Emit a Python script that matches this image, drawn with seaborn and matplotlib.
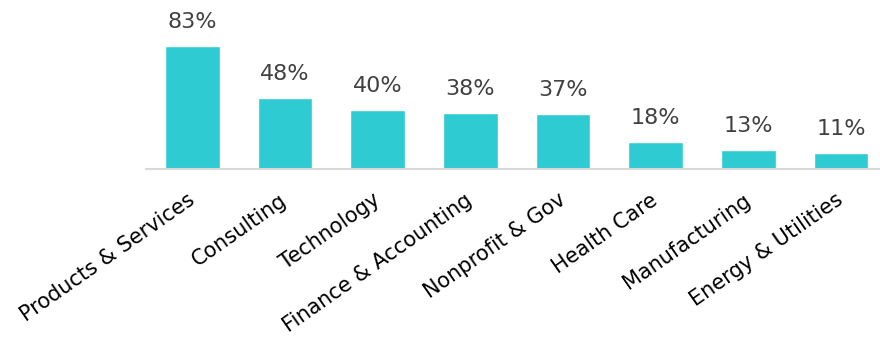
import matplotlib
matplotlib.use("Agg")
import matplotlib.pyplot as plt
import matplotlib.transforms as mtransforms
import seaborn as sns
import pandas as pd

categories = ["Products & Services", "Consulting", "Technology", "Finance & Accounting",
              "Nonprofit & Gov", "Health Care", "Manufacturing", "Energy & Utilities"]
shares = [83, 48, 40, 38, 37, 18, 13, 11]

sns.set_style("white")
plt.rcParams["font.family"] = ["DejaVu Sans"]

df = pd.DataFrame({"category": categories, "share": shares})

fig = plt.figure(figsize=(8.8, 3.38), dpi=100)
ax = fig.add_axes([146 / 880, 0.5, (880 - 146) / 880, 0.5])

sns.barplot(data=df, x="category", y="share", color="#2ECBD3", saturation=1,
            width=0.59, ax=ax)

ax.set_xlim(-0.5, 7.42)
ax.set_ylim(0, 114)

for i, v in enumerate(shares):
    ax.annotate(f"{v}%", (i, v), xytext=(0, 10), textcoords="offset points",
                ha="center", va="bottom", fontsize=16, color="#404040")

ax.set_xlabel("")
ax.set_ylabel("")
ax.set_yticks([])
ax.tick_params(axis="x", length=0, pad=15)
shift = mtransforms.ScaledTranslation(-4 / 72, 0, fig.dpi_scale_trans)
for lbl in ax.get_xticklabels():
    lbl.set_rotation(35)
    lbl.set_ha("right")
    lbl.set_rotation_mode("anchor")
    lbl.set_fontsize(15)
    lbl.set_color("black")
    lbl.set_transform(lbl.get_transform() + shift)

for side in ["top", "left", "right"]:
    ax.spines[side].set_visible(False)
ax.spines["bottom"].set_color("#D9D9D9")
ax.spines["bottom"].set_linewidth(1.5)

fig.savefig("out.png", dpi=100)
